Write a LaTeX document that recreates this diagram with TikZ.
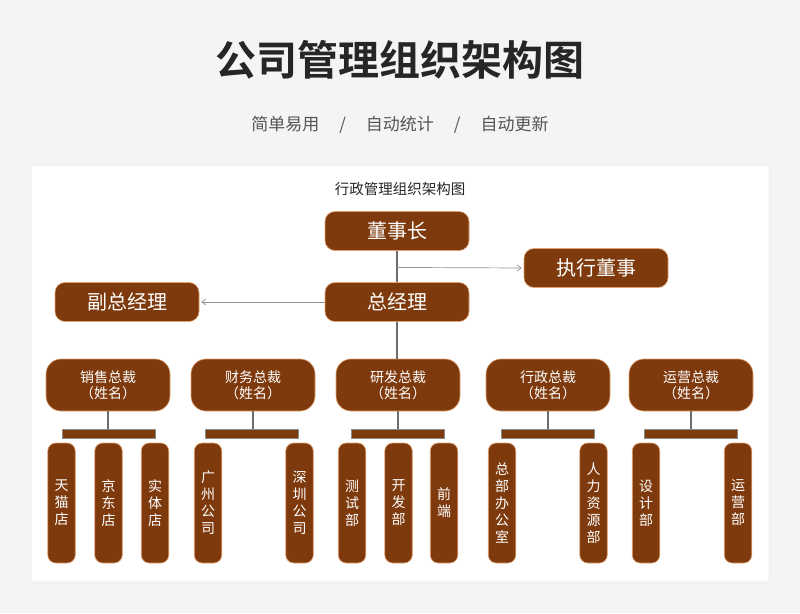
\documentclass[tikz,border=0pt]{standalone}
\usepackage{fontspec}
\setmainfont{Noto Sans CJK SC}[BoldFont={Noto Sans CJK SC Bold}]
\usetikzlibrary{arrows.meta,positioning,calc}
\definecolor{brn}{RGB}{126,58,13}
\definecolor{brnedge}{RGB}{226,160,112}
\definecolor{pagebg}{RGB}{243,244,246}
\definecolor{linegray}{RGB}{110,110,110}
\definecolor{subgray}{RGB}{85,85,85}
\tikzset{
  topbox/.style={draw=brnedge, line width=0.6pt, fill=brn, text=white, rounded corners=10pt, minimum width=144pt, minimum height=39pt, inner sep=0pt, font=\fontsize{20}{24}\selectfont},
  vpbox/.style={draw=brnedge, line width=0.6pt, fill=brn, text=white, rounded corners=15pt, minimum width=124pt, minimum height=52pt, inner sep=0pt, align=center, font=\fontsize{14}{16}\selectfont},
  barbox/.style={draw=linegray!80, line width=0.6pt, fill=brn, minimum width=93pt, minimum height=9pt, inner sep=0pt},
  deptbox/.style={draw=brnedge, line width=0.6pt, fill=brn, text=white, rounded corners=8pt, minimum width=27.5pt, minimum height=120pt, inner sep=0pt, align=center, font=\fontsize{14}{17}\selectfont},
  vline/.style={draw=linegray, line width=1.6pt},
  cline/.style={-{Straight Barb[length=4pt,width=6pt]}, draw=linegray!75, line width=0.7pt, shorten >=2pt},
}
\begin{document}
\begin{tikzpicture}[x=1pt,y=-1pt]
  % page and card
  \useasboundingbox (0,0) rectangle (800,613);
  \fill[pagebg] (0,0) rectangle (800,613);
  \fill[black!6] (30,165) rectangle (771,584);
  \fill[black!3] (31,166) rectangle (770,582);
  \fill[white] (32,166) rectangle (768,580);

  % headings
  \node[font=\fontsize{41}{46}\selectfont\bfseries, text=black!85] (title) at (400,60) {公司管理组织架构图};
  \node[font=\fontsize{17}{20}\selectfont, text=subgray] (subtitle) at (400,125)
    {简单易用\hspace{20pt}/\hspace{20pt}自动统计\hspace{20pt}/\hspace{20pt}自动更新};
  \node[font=\fontsize{14.5}{17}\selectfont, text=black!85] (cardtitle) at (400,189) {行政管理组织架构图};

  % top level
  \node[topbox] (chair) at (397,231) {董事长};
  \node[topbox] (exec)  at (596,268) {执行董事};
  \node[topbox] (gm)    at (397,302) {总经理};
  \node[topbox] (vgm)   at (127,302) {副总经理};

  % presidents
  \node[vpbox] (sales) at (108,385) {销售总裁\\（姓名）};
  \node[vpbox] (fin)   at (253,385) {财务总裁\\（姓名）};
  \node[vpbox] (rnd)   at (398,385) {研发总裁\\（姓名）};
  \node[vpbox] (adm)   at (548,385) {行政总裁\\（姓名）};
  \node[vpbox] (ops)   at (691,385) {运营总裁\\（姓名）};

  \node[barbox] (salesbar) at (108.5,433.5) {};
  \node[barbox] (finbar)   at (252,433.5)   {};
  \node[barbox] (rndbar)   at (398,433.5)   {};
  \node[barbox] (admbar)   at (547.5,433.5) {};
  \node[barbox] (opsbar)   at (691,433.5)   {};

  % departments
  \node[deptbox] (tmall)  at (61.5,503)  {天\\猫\\店};
  \node[deptbox] (jd)     at (108.5,503) {京\\东\\店};
  \node[deptbox] (store)  at (155,503)   {实\\体\\店};
  \node[deptbox] (gz)     at (208,503)   {广\\州\\公\\司};
  \node[deptbox] (sz)     at (299.5,503) {深\\圳\\公\\司};
  \node[deptbox] (test)   at (352,503)   {测\\试\\部};
  \node[deptbox] (dev)    at (398.5,503) {开\\发\\部};
  \node[deptbox] (front)  at (444,503)   {前\\端};
  \node[deptbox] (office) at (502,503)   {总\\部\\办\\公\\室};
  \node[deptbox] (hr)     at (593.5,503) {人\\力\\资\\源\\部};
  \node[deptbox] (design) at (646,503)   {设\\计\\部};
  \node[deptbox] (opdept) at (738,503)   {运\\营\\部};

  % connectors
  \coordinate (split) at ($(chair.south)!0.53!(gm.north)$);
  \draw[vline] (chair.south) -- (gm.north);
  \draw[vline] (gm.south) -- (gm.south |- rnd.north);
  \draw[cline] (split) -- (exec.west);
  \draw[cline] (gm.west) -- (vgm.east);

  \draw[vline] (sales.south) -- (sales.south |- salesbar.north);
  \draw[vline] (fin.south) -- (fin.south |- finbar.north);
  \draw[vline] (rnd.south) -- (rnd.south |- rndbar.north);
  \draw[vline] (adm.south) -- (adm.south |- admbar.north);
  \draw[vline] (ops.south) -- (ops.south |- opsbar.north);
\end{tikzpicture}
\end{document}
